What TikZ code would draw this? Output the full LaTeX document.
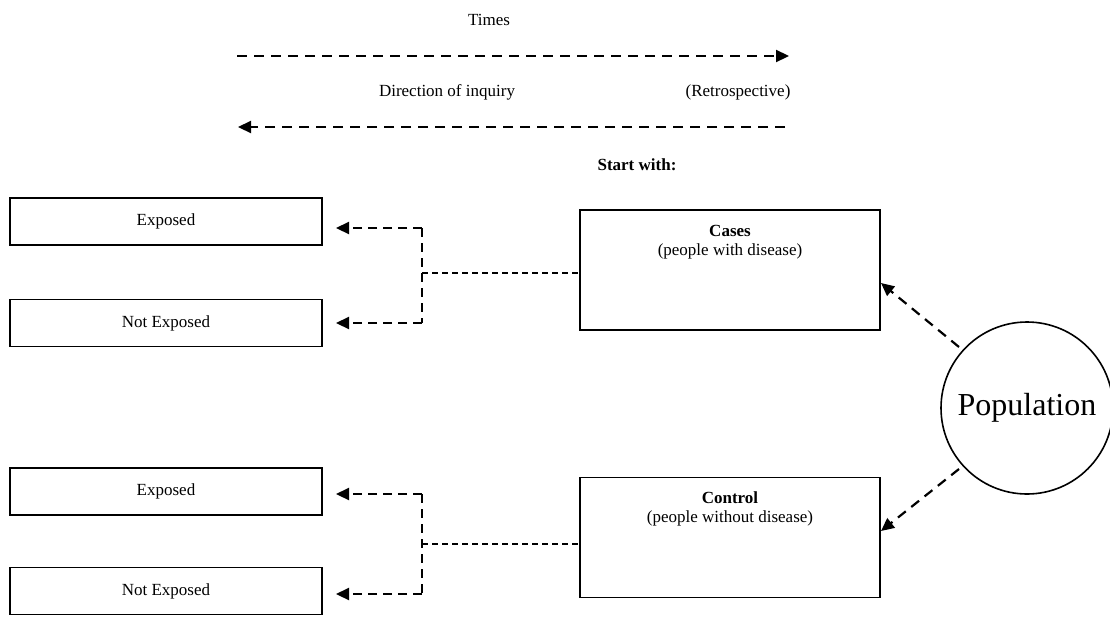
\documentclass[tikz,border=0pt]{standalone}
\usepackage{fontspec}
\setmainfont{Liberation Serif}
\usetikzlibrary{arrows.meta}
\begin{document}
\begin{tikzpicture}[x=1pt,y=-1pt,
  txt/.style={font=\fontsize{17}{19.5}\selectfont, inner sep=0pt},
  box/.style={draw, line width=1.7pt, minimum width=312pt, minimum height=47pt, inner sep=0pt, font=\fontsize{17}{19.5}\selectfont},
  bigbox/.style={draw, line width=1.7pt, minimum width=300pt, minimum height=120pt, inner sep=0pt},
  darr/.style={line width=2.2pt, dash pattern=on 10pt off 7pt, -{Triangle[length=13pt,width=12pt]}},
  elb/.style={line width=2.2pt, dash pattern=on 9pt off 6pt},
  conn/.style={line width=1.5pt, dash pattern=on 6pt off 4pt}]
\useasboundingbox (0,0) rectangle (1110,616);
% top
\node[txt] (times) at (489,20) {Times};
\coordinate (t1a) at (237,56);
\coordinate (t1b) at (789,56);
\draw[darr] (t1a) -- (t1b);
\node[txt] (dir) at (447,92) {Direction of inquiry};
\node[txt] (retro) at (738,92) {(Retrospective)};
\coordinate (t2a) at (785,127);
\coordinate (t2b) at (238,127);
\draw[darr] (t2a) -- (t2b);
\node[txt,font=\fontsize{17}{19.5}\selectfont\bfseries] (start) at (637,165) {Start with:};
% left boxes
\node[box] (e1) at (166,221.5) {Exposed};
\node[box] (n1) at (166,323) {Not Exposed};
\node[box] (e2) at (166,491.5) {Exposed};
\node[box] (n2) at (166,591) {Not Exposed};
% right boxes
\node[bigbox] (cases) at (730,270) {};
\node[txt,align=center] (casest) at (730,242) {\textbf{Cases}\\(people with disease)};
\node[bigbox] (control) at (730,537.5) {};
\node[txt,align=center] (controlt) at (730,509) {\textbf{Control}\\(people without disease)};
% population
\node[draw, circle, line width=1.6pt, minimum size=172pt, inner sep=0pt, font=\fontsize{32}{37}\selectfont] (pop) at (1027,408) {Population};
% upper elbow
\coordinate (u1) at (422,228);
\coordinate (u2) at (422,323);
\coordinate (um) at (422,273);
\coordinate (ua1) at (336,228);
\coordinate (ua2) at (336,323);
\draw[elb] (u1) -- (u2);
\draw[darr, dash pattern=on 9pt off 6pt] (u1) -- (ua1);
\draw[darr, dash pattern=on 9pt off 6pt] (u2) -- (ua2);
\draw[conn] (um) -- (um -| cases.west);
% lower elbow
\coordinate (l1) at (422,494);
\coordinate (l2) at (422,594);
\coordinate (lm) at (422,544);
\coordinate (la1) at (336,494);
\coordinate (la2) at (336,594);
\draw[elb] (l1) -- (l2);
\draw[darr, dash pattern=on 9pt off 6pt] (l1) -- (la1);
\draw[darr, dash pattern=on 9pt off 6pt] (l2) -- (la2);
\draw[conn] (lm) -- (lm -| control.west);
% population arrows
\coordinate (pa) at (959,347);
\coordinate (pb) at (959,469);
\coordinate (ca) at (881,283);
\coordinate (cb) at (881,531);
\draw[darr, dash pattern=on 10pt off 7pt] (pa) -- (ca);
\draw[darr, dash pattern=on 10pt off 7pt] (pb) -- (cb);
\end{tikzpicture}
\end{document}
